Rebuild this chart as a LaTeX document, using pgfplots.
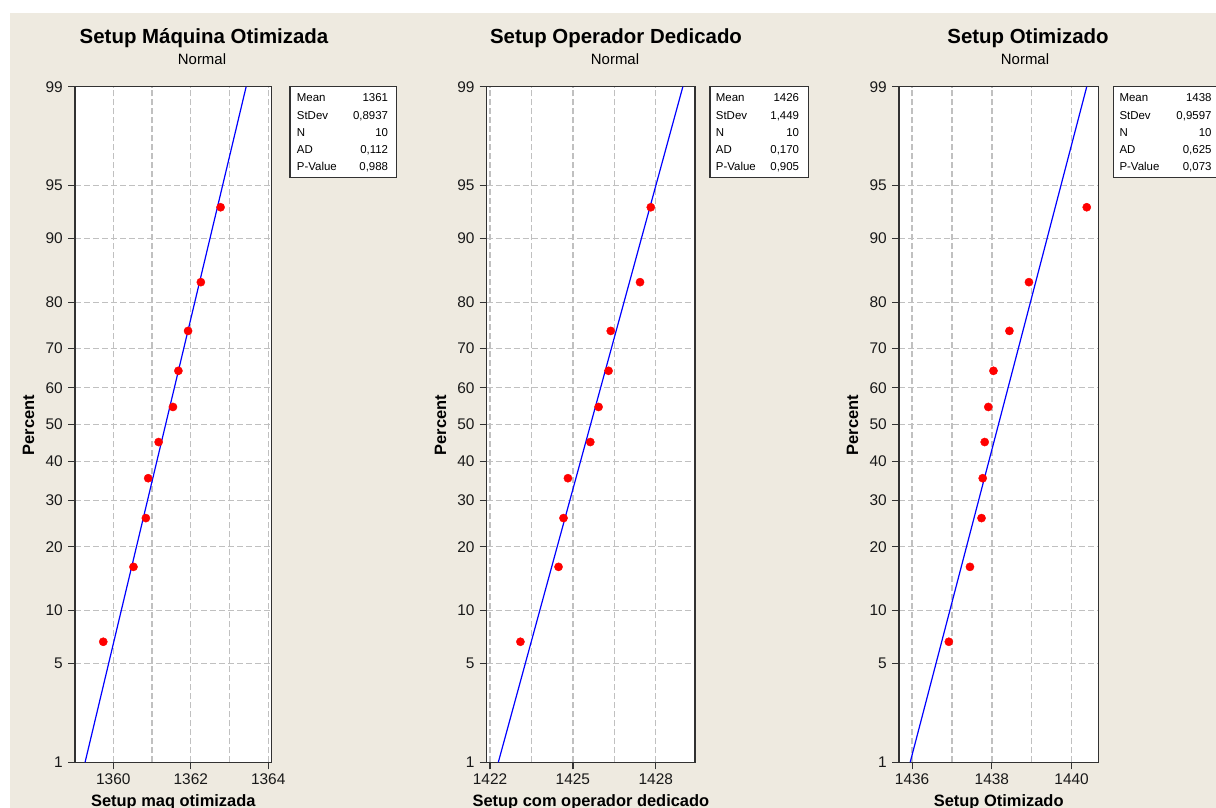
\documentclass[border=0pt]{standalone}
\usepackage{pgfplots}
\pgfplotsset{compat=1.18}
\usepackage{fontspec}
\setmainfont{Liberation Sans}
\definecolor{mtbbg}{RGB}{238,234,224}
\definecolor{mtbgrid}{RGB}{192,192,192}
\definecolor{mtbframe}{RGB}{50,50,50}

% probit scale: y = z(p), ticks at the usual percent positions
\pgfplotsset{
  mtb/.style={
    scale only axis, height=675.6bp,
    ymin=-2.3263, ymax=2.3263,
    ytick={-2.3263,-1.6449,-1.2816,-0.8416,-0.5244,-0.2533,0,0.2533,0.5244,0.8416,1.2816,1.6449,2.3263},
    yticklabels={1,5,10,20,30,40,50,60,70,80,90,95,99},
    xtick pos=bottom, ytick pos=left,
    tick align=outside, major tick length=7bp, minor tick length=0pt,
    tick style={mtbframe, line width=1.2bp},
    axis line style={mtbframe, line width=1.5bp},
    grid=both,
    major grid style={mtbgrid, dash pattern=on 6bp off 3bp, line width=1.4bp},
    minor grid style={mtbgrid, dash pattern=on 6bp off 3bp, line width=1.4bp},
    axis background/.style={fill=white},
    ticklabel style={font=\fontsize{15.5}{18}\selectfont, text=black!90},
    yticklabel style={anchor=east, inner sep=0pt, xshift=-5bp},
    xticklabel style={anchor=north, inner sep=0pt, yshift=-4bp},
  },
  fitline/.style={blue, line width=1.2bp},
  pts/.style={only marks, mark=*, mark size=4.1bp, color=red, mark options={draw=red, fill=red}},
}
\newcommand{\ttl}{\fontsize{20.5}{24}\selectfont\bfseries}
\newcommand{\sub}{\fontsize{15}{18}\selectfont}
\newcommand{\lbl}{\fontsize{16.5}{19}\selectfont\bfseries}
\newcommand{\stat}{\fontsize{11.5}{13}\selectfont}

\begin{document}
\begin{tikzpicture}
\useasboundingbox (0,0) rectangle (1216bp,-808bp);
\fill[white] (0,0) rectangle (1216bp,-808bp);
\fill[mtbbg] (10bp,-12.7bp) rectangle (1216bp,-808bp);

% ---- panel 1
\begin{axis}[mtb, at={(75bp,-762.3bp)}, anchor=south west, width=196.7bp,
  xmin=1359.01, xmax=1364.09,
  xtick={1360,1362,1364}, xticklabels={1360,1362,1364}, minor xtick={1361,1363}]
\addplot[fitline] coordinates {(1359.27,-2.3263) (1363.43,2.3263)};
\addplot[pts] coordinates {
(1359.74,-1.4962) (1360.52,-0.9803) (1360.84,-0.6445) (1360.90,-0.3698) (1361.17,-0.1208)
(1361.54,0.1208) (1361.68,0.3698) (1361.93,0.6445) (1362.26,0.9803) (1362.77,1.4962)};
\end{axis}

% ---- panel 2
\begin{axis}[mtb, at={(486.7bp,-762.3bp)}, anchor=south west, width=208.3bp,
  xmin=1421.88, xmax=1429.42,
  xtick={1422,1425,1428}, xticklabels={1422,1425,1428}, minor xtick={1423.5,1426.5}]
\addplot[fitline] coordinates {(1422.30,-2.3263) (1428.98,2.3263)};
\addplot[pts] coordinates {
(1423.10,-1.4962) (1424.48,-0.9803) (1424.66,-0.6445) (1424.82,-0.3698) (1425.63,-0.1208)
(1425.93,0.1208) (1426.29,0.3698) (1426.37,0.6445) (1427.43,0.9803) (1427.82,1.4962)};
\end{axis}

% ---- panel 3
\begin{axis}[mtb, at={(899bp,-762.3bp)}, anchor=south west, width=199.3bp,
  xmin=1435.67, xmax=1440.67,
  xtick={1436,1438,1440}, xticklabels={1436,1438,1440}, minor xtick={1437,1439}]
\addplot[fitline] coordinates {(1435.95,-2.3263) (1440.38,2.3263)};
\addplot[pts] coordinates {
(1436.92,-1.4962) (1437.45,-0.9803) (1437.74,-0.6445) (1437.77,-0.3698) (1437.82,-0.1208)
(1437.91,0.1208) (1438.04,0.3698) (1438.44,0.6445) (1438.93,0.9803) (1440.38,1.4962)};
\end{axis}

% titles
\node[anchor=base] at (204bp,-43.3bp) {\ttl Setup Máquina Otimizada};
\node[anchor=base] at (202bp,-64.3bp) {\sub Normal};
\node[anchor=base] at (616bp,-43.3bp) {\ttl Setup Operador Dedicado};
\node[anchor=base] at (615bp,-64.3bp) {\sub Normal};
\node[anchor=base] at (1028bp,-43.3bp) {\ttl Setup Otimizado};
\node[anchor=base] at (1025bp,-64.3bp) {\sub Normal};

% axis labels
\node[anchor=base] at (173.3bp,-806.8bp) {\lbl Setup maq otimizada};
\node[anchor=base] at (590.9bp,-806.8bp) {\lbl Setup com operador dedicado};
\node[anchor=base] at (998.7bp,-806.8bp) {\lbl Setup Otimizado};
\node[rotate=90] at (28.5bp,-425bp) {\lbl Percent};
\node[rotate=90] at (440.5bp,-425bp) {\lbl Percent};
\node[rotate=90] at (852.5bp,-425bp) {\lbl Percent};

% statistics boxes
\draw[mtbframe, line width=1.2bp, fill=white] (290bp,-86.7bp) rectangle (396.7bp,-177.7bp);
\draw[mtbframe, line width=1.2bp, fill=white] (710bp,-86.7bp) rectangle (808.3bp,-177.7bp);
\draw[mtbframe, line width=1.2bp, fill=white] (1113.3bp,-86.7bp) rectangle (1230bp,-177.7bp);
\foreach \lx/\rx/\a/\b/\c/\d/\e in {296.7/388.3/1361/{0,8937}/10/{0,112}/{0,988},
  715.7/799.3/1426/{1,449}/10/{0,170}/{0,905},
  1119.3/1211.7/1438/{0,9597}/10/{0,625}/{0,073}}{
  \node[anchor=base west, inner sep=0pt] at (\lx bp,-101.8bp) {\stat Mean};
  \node[anchor=base west, inner sep=0pt] at (\lx bp,-119.05bp) {\stat StDev};
  \node[anchor=base west, inner sep=0pt] at (\lx bp,-136.3bp) {\stat N};
  \node[anchor=base west, inner sep=0pt] at (\lx bp,-153.55bp) {\stat AD};
  \node[anchor=base west, inner sep=0pt] at (\lx bp,-170.8bp) {\stat P-Value};
  \node[anchor=base east, inner sep=0pt] at (\rx bp,-101.8bp) {\stat \a};
  \node[anchor=base east, inner sep=0pt] at (\rx bp,-119.05bp) {\stat \b};
  \node[anchor=base east, inner sep=0pt] at (\rx bp,-136.3bp) {\stat \c};
  \node[anchor=base east, inner sep=0pt] at (\rx bp,-153.55bp) {\stat \d};
  \node[anchor=base east, inner sep=0pt] at (\rx bp,-170.8bp) {\stat \e};
}
\end{tikzpicture}
\end{document}
